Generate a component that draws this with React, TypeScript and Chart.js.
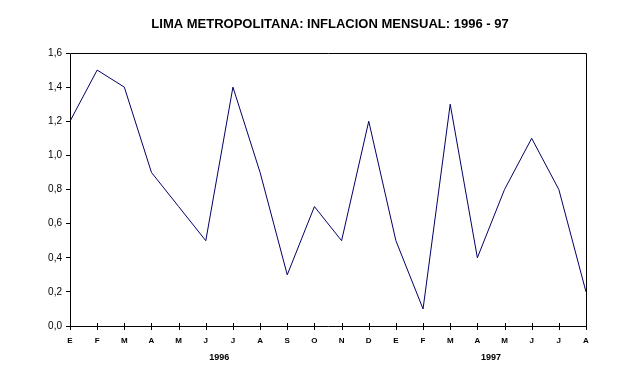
import React, { useEffect, useRef } from "react";
import { Chart, registerables } from "chart.js";

Chart.register(...registerables);

const TITLE = "LIMA METROPOLITANA: INFLACION MENSUAL: 1996 - 97";
const MONTHS = ["E", "F", "M", "A", "M", "J", "J", "A", "S", "O", "N", "D", "E", "F", "M", "A", "M", "J", "J", "A"];
const INFLATION = [1.2, 1.5, 1.4, 0.9, 0.7, 0.5, 1.4, 0.9, 0.3, 0.7, 0.5, 1.2, 0.5, 0.1, 1.3, 0.4, 0.8, 1.1, 0.8, 0.2];
const YEARS = ["1996", "1997"];
const YEAR_SPANS = [[0, 11], [12, 19]];

const W = 629;
const H = 371;

const decor = {
  id: "decor",
  afterDraw(chart: any) {
    const ctx = chart.ctx;
    const a = chart.chartArea;
    const xs = chart.scales.x;
    ctx.save();
    // frame
    ctx.strokeStyle = "#000";
    ctx.lineWidth = 1;
    ctx.beginPath();
    ctx.moveTo(Math.round(a.left) + 0.5, Math.round(a.bottom) + 0.5);
    ctx.lineTo(Math.round(a.left) + 0.5, Math.round(a.top) + 0.5);
    ctx.lineTo(Math.round(a.right) + 0.5, Math.round(a.top) + 0.5);
    ctx.lineTo(Math.round(a.right) + 0.5, Math.round(a.bottom) + 0.5);
    ctx.lineTo(Math.round(a.left) + 0.5, Math.round(a.bottom) + 0.5);
    ctx.stroke();
    // x ticks crossing the axis
    ctx.beginPath();
    for (let i = 0; i < MONTHS.length; i++) {
      const x = Math.round(xs.getPixelForValue(i)) + 0.5;
      ctx.moveTo(x, Math.round(a.bottom) - 3);
      ctx.lineTo(x, Math.round(a.bottom) + 4);
    }
    ctx.stroke();
    // title
    ctx.fillStyle = "#000";
    ctx.textAlign = "center";
    ctx.textBaseline = "middle";
    ctx.font = "bold 13px 'Liberation Sans Narrow', 'Arial Narrow', Arial, sans-serif";
    ctx.fillText(TITLE, 330, 24);
    // year labels
    ctx.font = "bold 9px Arial, 'Liberation Sans', sans-serif";
    YEARS.forEach((y, i) => {
      const [s, e] = YEAR_SPANS[i];
      const cx = (xs.getPixelForValue(s) + xs.getPixelForValue(e)) / 2;
      ctx.fillText(y, cx, 358);
    });
    ctx.restore();
  },
};

export default function App() {
  const ref = useRef<HTMLCanvasElement>(null);
  useEffect(() => {
    document.body.style.margin = "0";
    const chart = new Chart(ref.current!, {
      type: "line",
      data: {
        labels: MONTHS,
        datasets: [
          {
            data: INFLATION,
            borderColor: "#000066",
            borderWidth: 1,
            pointRadius: 0,
            tension: 0,
            fill: false,
          },
        ],
      },
      options: {
        animation: false,
        responsive: false,
        maintainAspectRatio: false,
        events: [],
        layout: { padding: { left: 0, right: 43, top: 53, bottom: 0 } },
        plugins: { legend: { display: false }, title: { display: false }, tooltip: { enabled: false } },
        scales: {
          x: {
            type: "category",
            offset: false,
            grid: { display: false },
            border: { display: false },
            ticks: {
              autoSkip: false,
              maxRotation: 0,
              padding: 2,
              color: "#000",
              font: { family: "Arial, 'Liberation Sans', sans-serif", size: 8, weight: "bold" },
            },
            afterFit(s: any) {
              s.height = 45;
            },
          },
          y: {
            min: 0,
            max: 1.6,
            grid: { drawOnChartArea: false, drawTicks: true, tickLength: 4, color: "#000" },
            border: { display: false },
            ticks: {
              stepSize: 0.2,
              padding: 4,
              color: "#000",
              font: { family: "Arial, 'Liberation Sans', sans-serif", size: 10 },
              callback: (v: any) => Number(v).toFixed(1).replace(".", ","),
            },
            afterFit(s: any) {
              s.width = 70;
            },
          },
        },
      },
      plugins: [decor],
    });
    return () => chart.destroy();
  }, []);
  return (
    <div style={{ width: W, height: H, background: "#fff" }}>
      <canvas ref={ref} width={W} height={H} style={{ width: W, height: H, display: "block" }} />
    </div>
  );
}
